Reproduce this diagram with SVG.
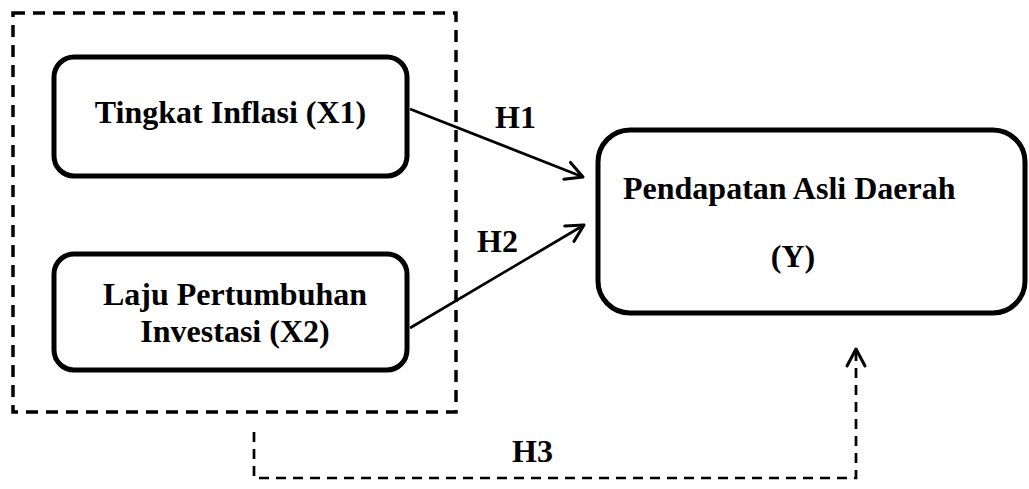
<svg xmlns="http://www.w3.org/2000/svg" width="1029" height="489" viewBox="0 0 1029 489">
  <defs>
    <style>
      .node { fill: #ffffff; stroke: #000000; stroke-width: 5; }
      .lbl { font-family: "Liberation Serif", "Times New Roman", serif; font-weight: bold; font-size: 32px; fill: #000000; }
      .group { fill: none; stroke: #000000; stroke-width: 3.5; stroke-dasharray: 12 8; }
      .solid { fill: none; stroke: #000000; stroke-width: 2.7; }
      .dashed { fill: none; stroke: #000000; stroke-width: 2.7; stroke-dasharray: 10 7; }
    </style>
    <marker id="open" viewBox="0 0 24 24" refX="20" refY="12" markerWidth="24" markerHeight="24" markerUnits="userSpaceOnUse" orient="auto">
      <path d="M3,3 L20,12 L3,21" fill="none" stroke="#000000" stroke-width="3" stroke-linecap="round" stroke-linejoin="round"/>
    </marker>
  </defs>
  <rect width="1029" height="489" fill="#ffffff"/>

  <g id="group-box">
    <rect class="group" x="13" y="13" width="443" height="399"/>
  </g>

  <g id="node-x1">
    <rect class="node" x="54" y="57" width="353" height="119" rx="20" ry="20"/>
    <text class="lbl" x="230.5" y="123" text-anchor="middle">Tingkat Inflasi (X1)</text>
  </g>

  <g id="node-x2">
    <rect class="node" x="54" y="254" width="353" height="116" rx="20" ry="20"/>
    <text class="lbl" x="235" y="305" text-anchor="middle">Laju Pertumbuhan</text>
    <text class="lbl" x="235" y="342" text-anchor="middle">Investasi (X2)</text>
  </g>

  <g id="node-y">
    <rect class="node" x="598" y="130" width="427" height="183" rx="32" ry="32"/>
    <text class="lbl" x="623" y="199">Pendapatan Asli Daerah</text>
    <text class="lbl" x="793" y="267" text-anchor="middle">(Y)</text>
  </g>

  <g id="connectors">
    <line class="solid" x1="410" y1="109" x2="583" y2="177" marker-end="url(#open)"/>
    <line class="solid" x1="410" y1="328" x2="584" y2="225" marker-end="url(#open)"/>
    <polyline class="dashed" points="254,432 254,478 856,478 856,349" marker-end="url(#open)"/>
    <text class="lbl" x="495" y="128">H1</text>
    <text class="lbl" x="477" y="252">H2</text>
    <text class="lbl" x="512" y="462">H3</text>
  </g>
</svg>
